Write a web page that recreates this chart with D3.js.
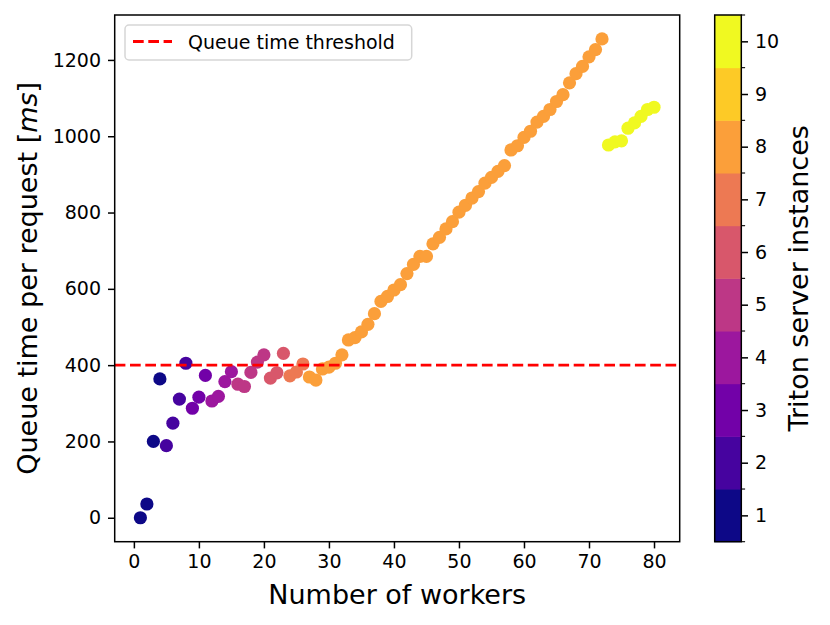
<!DOCTYPE html>
<html>
<head>
<meta charset="utf-8">
<script src="https://cdn.jsdelivr.net/npm/d3@7"></script>
<style>
  body { margin: 0; background: #fff; }
  svg { font-family: "DejaVu Sans", sans-serif; }
</style>
</head>
<body>
<div id="chart"></div>
<script>
// Data
const workers = [1, 2, 3, 4, 5, 6, 7, 8, 9, 10, 11, 12, 13, 14, 15, 16, 17, 18, 19, 20,
  21, 22, 23, 24, 25, 26, 27, 28, 29, 30, 31, 32, 33, 34, 35, 36, 37, 38, 39, 40,
  41, 42, 43, 44, 45, 46, 47, 48, 49, 50, 51, 52, 53, 54, 55, 56, 57, 58, 59, 60,
  61, 62, 63, 64, 65, 66, 67, 68, 69, 70, 71, 72, 73, 74, 75, 76, 77, 78, 79, 80];
const queueTime = [0, 36, 200, 364, 189, 248, 311, 405, 287, 316, 373, 306, 318, 357, 383, 350, 344, 381, 408, 427,
  366, 380, 431, 372, 382, 403, 369, 361, 390, 395, 405, 427, 466, 472, 487, 507, 535, 567, 580, 597,
  611, 640, 664, 685, 685, 718, 735, 757, 776, 801, 819, 838, 855, 877, 892, 908, 923, 964, 975, 997,
  1013, 1037, 1052, 1070, 1091, 1109, 1140, 1164, 1183, 1208, 1227, 1255, 977, 985, 988, 1021, 1035, 1052, 1070, 1076];
const instances = [1, 1, 1, 1, 2, 2, 2, 2, 3, 3, 3, 4, 4, 4, 4, 5, 5, 5, 5, 5,
  6, 6, 6, 7, 7, 7, 8, 8, 8, 8, 8, 8, 8, 8, 8, 8, 8, 8, 8, 8,
  8, 8, 8, 8, 8, 8, 8, 8, 8, 8, 8, 8, 8, 8, 8, 8, 8, 8, 8, 8,
  8, 8, 8, 8, 8, 8, 8, 8, 8, 8, 8, 8, 10, 10, 10, 10, 10, 10, 10, 10];
const threshold = 400;
const xTicks = [0, 10, 20, 30, 40, 50, 60, 70, 80];
const yTicks = [0, 200, 400, 600, 800, 1000, 1200];
const levels = [1, 2, 3, 4, 5, 6, 7, 8, 9, 10];

const width = 830, height = 625;
const plot = { left: 114.7, right: 679.7, top: 15, bottom: 541.7 };
const cbar = { left: 714.7, right: 741.3 };
const tickLen = 6.7, tickFont = 19, labelFont = 27;

const points = workers.map((w, i) => ({ w, q: queueTime[i], n: instances[i] }));

// matplotlib style 5% margins
const xExt = d3.extent(workers), yExt = d3.extent(queueTime);
const xPad = (xExt[1] - xExt[0]) * 0.05, yPad = (yExt[1] - yExt[0]) * 0.05;
const x = d3.scaleLinear().domain([xExt[0] - xPad, xExt[1] + xPad]).range([plot.left, plot.right]);
const y = d3.scaleLinear().domain([yExt[0] - yPad, yExt[1] + yPad]).range([plot.bottom, plot.top]);
const cy = d3.scaleLinear().domain([0.5, 10.5]).range([plot.bottom, plot.top]);
const color = n => d3.interpolatePlasma((n - 1) / 9);

const svg = d3.select("#chart").append("svg")
  .attr("width", width)
  .attr("height", height);

// scatter points
svg.append("g")
  .selectAll("circle")
  .data(points)
  .join("circle")
  .attr("cx", d => x(d.w))
  .attr("cy", d => y(d.q))
  .attr("r", 6.6)
  .attr("fill", d => color(d.n));

// threshold line
svg.append("line")
  .attr("x1", plot.left).attr("x2", plot.right)
  .attr("y1", y(threshold)).attr("y2", y(threshold))
  .attr("stroke", "#ff0000")
  .attr("stroke-width", 2.9)
  .attr("stroke-dasharray", "10.7,4.6");

// axes
const xAxis = svg.append("g")
  .attr("transform", `translate(0, ${plot.bottom})`)
  .call(d3.axisBottom(x).tickValues(xTicks).tickFormat(d3.format("d"))
    .tickSize(tickLen).tickPadding(6).tickSizeOuter(0));
const yAxis = svg.append("g")
  .attr("transform", `translate(${plot.left}, 0)`)
  .call(d3.axisLeft(y).tickValues(yTicks).tickFormat(d3.format("d"))
    .tickSize(tickLen).tickPadding(7).tickSizeOuter(0));

[xAxis, yAxis].forEach(a => {
  a.select(".domain").remove();
  a.selectAll(".tick line").attr("stroke", "#000").attr("stroke-width", 1.5);
  a.selectAll(".tick text").attr("fill", "#000")
    .style("font-size", tickFont + "px")
    .style("font-family", "DejaVu Sans");
});

// spines
svg.append("rect")
  .attr("x", plot.left).attr("y", plot.top)
  .attr("width", plot.right - plot.left).attr("height", plot.bottom - plot.top)
  .attr("fill", "none").attr("stroke", "#000").attr("stroke-width", 1.5);

// axis labels
svg.append("text")
  .attr("x", (plot.left + plot.right) / 2)
  .attr("y", 604)
  .attr("text-anchor", "middle")
  .style("font-size", labelFont + "px")
  .text("Number of workers");

const yLabel = svg.append("text")
  .attr("transform", `translate(37, ${(plot.top + plot.bottom) / 2}) rotate(-90)`)
  .attr("text-anchor", "middle")
  .style("font-size", labelFont + "px");
yLabel.append("tspan").text("Queue time per request [");
yLabel.append("tspan").style("font-style", "italic").text("ms");
yLabel.append("tspan").text("]");

// legend
const legend = svg.append("g");
legend.append("rect")
  .attr("x", 125).attr("y", 25)
  .attr("width", 286.7).attr("height", 35)
  .attr("rx", 4).attr("ry", 4)
  .attr("fill", "#fff").attr("fill-opacity", 0.8)
  .attr("stroke", "#d6d6d6").attr("stroke-width", 1.5);
legend.append("line")
  .attr("x1", 133).attr("x2", 172)
  .attr("y1", 41.5).attr("y2", 41.5)
  .attr("stroke", "#ff0000")
  .attr("stroke-width", 2.9)
  .attr("stroke-dasharray", "10.7,4.6");
legend.append("text")
  .attr("x", 188).attr("y", 48.5)
  .style("font-size", tickFont + "px")
  .text("Queue time threshold");

// colorbar
const cb = svg.append("g");
cb.selectAll("rect.level")
  .data(levels)
  .join("rect")
  .attr("class", "level")
  .attr("x", cbar.left)
  .attr("y", d => cy(d + 0.5))
  .attr("width", cbar.right - cbar.left)
  .attr("height", d => cy(d - 0.5) - cy(d + 0.5) + 0.5)
  .attr("fill", d => color(d));

const cbAxis = cb.append("g")
  .attr("transform", `translate(${cbar.right}, 0)`)
  .call(d3.axisRight(cy).tickValues(levels).tickFormat(d3.format("d"))
    .tickSize(tickLen).tickPadding(7).tickSizeOuter(0));
cbAxis.select(".domain").remove();
cbAxis.selectAll(".tick line").attr("stroke", "#000").attr("stroke-width", 1.5);
cbAxis.selectAll(".tick text").attr("fill", "#000")
  .style("font-size", tickFont + "px")
  .style("font-family", "DejaVu Sans");

// minor ticks at the level boundaries
cb.append("g")
  .selectAll("line")
  .data(d3.range(0.5, 11, 1))
  .join("line")
  .attr("x1", cbar.right).attr("x2", cbar.right + 3.8)
  .attr("y1", d => cy(d)).attr("y2", d => cy(d))
  .attr("stroke", "#000").attr("stroke-width", 1.1);

cb.append("rect")
  .attr("x", cbar.left).attr("y", plot.top)
  .attr("width", cbar.right - cbar.left).attr("height", plot.bottom - plot.top)
  .attr("fill", "none").attr("stroke", "#000").attr("stroke-width", 1.5);

svg.append("text")
  .attr("transform", `translate(808, ${(plot.top + plot.bottom) / 2}) rotate(-90)`)
  .attr("text-anchor", "middle")
  .style("font-size", labelFont + "px")
  .text("Triton server instances");
</script>
</body>
</html>
